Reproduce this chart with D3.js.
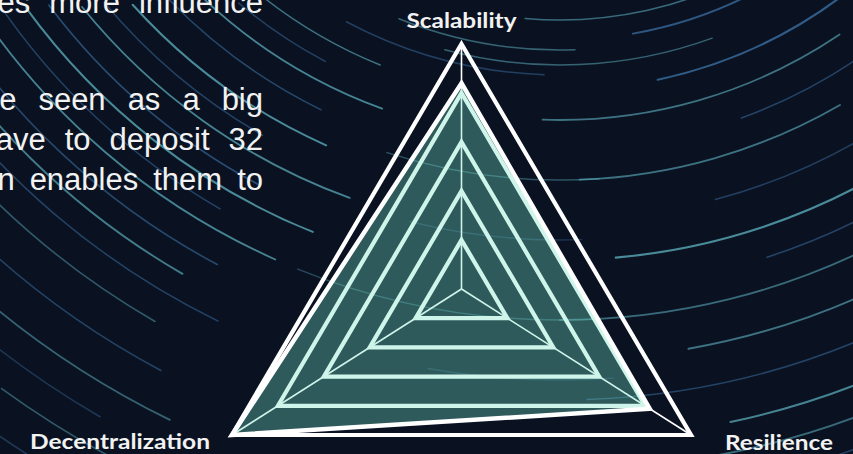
<!DOCTYPE html>
<html>
<head>
<meta charset="utf-8">
<script src="https://cdn.jsdelivr.net/npm/d3@7"></script>
<style>
  html, body { margin: 0; padding: 0; background: #0a1222; overflow: hidden; }
  svg { display: block; }
</style>
</head>
<body>
<svg id="chart" width="853" height="454"></svg>
<script>
// ---- data ---------------------------------------------------------------
// Radar axes, clockwise from the top
const axes = ["Scalability", "Resilience", "Decentralization"];
// Rating on each axis (0–5 scale)
const ratings = [4.2, 4.1, 5];
// Grid levels drawn as concentric triangles
const levels = [1, 2, 3, 4, 5];
// Body copy beside the chart (justified, clipped at the left edge)
const bodyLines = [
  "a larger stake gives more influence",
  "This can be seen as a big",
  "barrier, as validators have to deposit 32",
  "ETH, which in turn enables them to"
];

// ---- layout -------------------------------------------------------------
const W = 853, H = 454;
const svg = d3.select("#chart");

// background swirl streaks: radius, start/end angle (deg), opacity, width, tint
const streaks = [
  // upper left
  [480, 112, 128, .6, 1.5, 1], [500, 118, 130, .5, 1.4, 0], [520, 110, 134, .7, 1.8, 1],
  [545, 116, 136, .55, 1.5, 0], [575, 114, 138, .75, 2, 1], [595, 120, 140, .5, 1.4, 0],
  [615, 110, 141, .7, 1.8, 1], [640, 118, 143, .6, 1.6, 0], [660, 112, 144, .75, 2, 1],
  [680, 120, 146, .5, 1.4, 0], [700, 114, 147, .7, 1.8, 1], [730, 118, 148, .55, 1.6, 0],
  [755, 120, 149, .65, 1.8, 1], [780, 116, 145, .5, 1.5, 0], [810, 120, 140, .45, 1.5, 1],
  [850, 118, 135, .5, 1.6, 0], [890, 116, 130, .5, 1.8, 1], [920, 120, 132, .4, 1.5, 0],
  [950, 116, 126, .45, 1.6, 1], [990, 118, 128, .4, 1.5, 0],
  // right side
  [400, 60, 95, .55, 1.6, 1], [420, 55, 80, .7, 2, 0], [445, 70, 105, .5, 1.5, 1],
  [470, 52, 78, .75, 2.2, 0], [500, 56, 92, .6, 1.8, 1], [530, 50, 70, .5, 1.5, 0],
  [560, 60, 88, .6, 1.8, 1], [600, 54, 75, .45, 1.5, 0], [640, 58, 85, .75, 2.2, 1],
  [670, 56, 72, .5, 1.6, 0], [700, 62, 90, .55, 1.8, 1], [740, 60, 80, .6, 2, 1],
  [780, 64, 88, .5, 1.6, 0], [820, 62, 78, .7, 2, 1], [850, 66, 85, .55, 1.8, 1],
  [880, 66, 76, .45, 1.5, 0],
  // middle
  [430, 88, 112, .5, 1.5, 1], [455, 92, 118, .45, 1.5, 0], [560, 86, 108, .4, 1.5, 1],
  [620, 88, 104, .35, 1.4, 0], [700, 90, 112, .35, 1.4, 1], [760, 86, 100, .3, 1.4, 0]
];
const swirlCenter = [560, -380];

const defs = svg.append("defs");
defs.append("filter").attr("id", "soft")
  .append("feGaussianBlur").attr("stdDeviation", 0.6);

svg.append("rect").attr("width", W).attr("height", H).attr("fill", "#0a1222");

const toRad = d => d * Math.PI / 180;
svg.append("g").attr("filter", "url(#soft)")
  .selectAll("path").data(streaks).join("path")
  .attr("d", s => {
    const p = d3.path();
    p.arc(swirlCenter[0], swirlCenter[1], s[0], toRad(s[1]), toRad(s[2]));
    return p.toString().replace(/^L/, "M");
  })
  .attr("fill", "none")
  .attr("stroke", s => s[5] ? "#5fb3c2" : "#3d74a8")
  .attr("stroke-opacity", s => s[3])
  .attr("stroke-width", s => s[4])
  .attr("stroke-linecap", "round");

// ---- body text ----------------------------------------------------------
const textRight = 263;
const lineBaselines = [13, 110, 150, 190];
const lineGaps = [19, 22, 19, 15];
const bodyG = svg.append("g")
  .attr("font-family", "'Liberation Sans', Arial, sans-serif")
  .attr("font-size", 31)
  .attr("fill", "#f2f2f2");
bodyLines.forEach((line, i) => {
  const words = line.split(" ");
  let x = textRight;
  for (let j = words.length - 1; j >= 0; j--) {
    const t = bodyG.append("text").attr("y", lineBaselines[i]).text(words[j]);
    const w = t.node().getComputedTextLength();
    x -= w;
    t.attr("x", x);
    x -= lineGaps[i];
  }
});

// ---- radar --------------------------------------------------------------
const cx = 461.5, cy = 289;
const rx = 265, ryUp = 245, ryDown = 292;   // plot radii (horizontal, upward, downward)
const angle = d3.scalePoint().domain(axes.concat("_")).range([0, 2 * Math.PI]);
const r = d3.scaleLinear().domain([0, d3.max(levels)]).range([0, 1]);

function pos(axis, value) {
  const a = angle(axis), t = r(value);
  const c = Math.cos(a);
  return [cx + rx * Math.sin(a) * t, cy - (c >= 0 ? ryUp : ryDown) * c * t];
}
const line = d3.line().curve(d3.curveLinearClosed);

const radar = svg.append("g");

// grid triangles
radar.append("g").selectAll("path").data(levels).join("path")
  .attr("d", lv => line(axes.map(a => pos(a, lv))))
  .attr("fill", "none")
  .attr("stroke", "#ffffff")
  .attr("stroke-width", 4.2)
  .attr("stroke-linejoin", "miter");

// spokes
radar.append("g").selectAll("line").data(axes).join("line")
  .attr("x1", cx).attr("y1", cy)
  .attr("x2", a => pos(a, d3.max(levels))[0])
  .attr("y2", a => pos(a, d3.max(levels))[1])
  .attr("stroke", "#ffffff")
  .attr("stroke-width", 1.6);

// rating area
const pts = axes.map((a, i) => pos(a, ratings[i]));
radar.append("path")
  .attr("d", line(pts))
  .attr("fill", "rgb(118,226,198)")
  .attr("fill-opacity", 0.35);
radar.append("path")
  .attr("d", line(pts))
  .attr("fill", "none")
  .attr("stroke", "#ffffff")
  .attr("stroke-width", 4.5)
  .attr("stroke-linejoin", "miter");

// axis labels
const labelSpec = {
  "Scalability": { dx: 0, dy: -16, width: 110 },
  "Resilience": { dx: 88, dy: 15, width: 108 },
  "Decentralization": { dx: -112, dy: 14, width: 180 }
};
radar.append("g")
  .attr("font-family", "Lato, 'Open Sans', sans-serif")
  .attr("font-weight", 700)
  .attr("font-size", 20.5)
  .attr("fill", "#f2f2f2")
  .attr("text-anchor", "middle")
  .selectAll("text").data(axes).join("text")
  .attr("x", a => pos(a, d3.max(levels))[0] + labelSpec[a].dx)
  .attr("y", a => pos(a, d3.max(levels))[1] + labelSpec[a].dy)
  .attr("textLength", a => labelSpec[a].width)
  .attr("lengthAdjust", "spacingAndGlyphs")
  .text(a => a);
</script>
</body>
</html>
